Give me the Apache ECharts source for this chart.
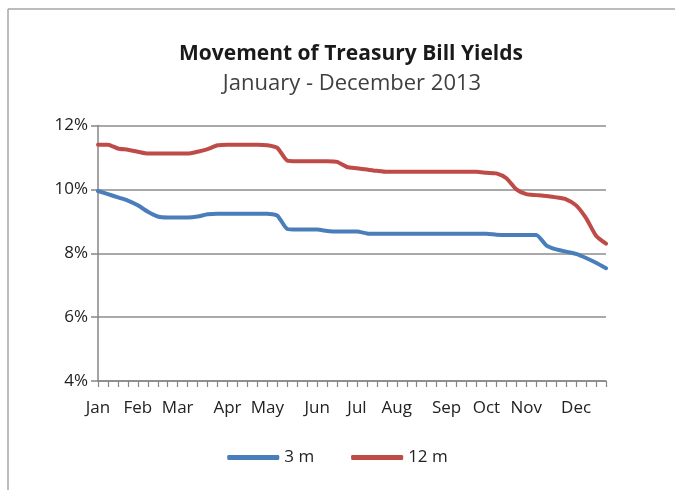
<!DOCTYPE html>
<html>
<head>
<meta charset="utf-8">
<script src="https://cdn.jsdelivr.net/npm/echarts@6/dist/echarts.min.js"></script>
<style>
html,body{margin:0;padding:0;background:#fff;}
#chart{width:675px;height:490px;}
</style>
</head>
<body>
<div id="chart"></div>
<script>
// Weekly auction labels (month name at first auction of each month)
const weekLabels = [
  'Jan','','','',
  'Feb','','','',
  'Mar','','','','',
  'Apr','','','',
  'May','','','','',
  'Jun','','','',
  'Jul','','','',
  'Aug','','','','',
  'Sep','','','',
  'Oct','','','',
  'Nov','','','','',
  'Dec','','',''
];
const yieldTicks = [4, 6, 8, 10, 12];
const bill3m = [
  9.95, 9.85, 9.75, 9.65, 9.50, 9.30, 9.15, 9.12, 9.12, 9.12,
  9.15, 9.22, 9.24, 9.24, 9.24, 9.24, 9.24, 9.24, 9.18, 8.76,
  8.74, 8.74, 8.74, 8.70, 8.68, 8.68, 8.68, 8.62, 8.61, 8.61,
  8.61, 8.61, 8.61, 8.61, 8.61, 8.61, 8.61, 8.61, 8.61, 8.61,
  8.58, 8.57, 8.57, 8.57, 8.57, 8.25, 8.12, 8.05, 7.98, 7.85,
  7.70, 7.53
];
const bill12m = [
  11.40, 11.40, 11.28, 11.24, 11.18, 11.12, 11.12, 11.12, 11.12, 11.12,
  11.18, 11.26, 11.38, 11.40, 11.40, 11.40, 11.40, 11.38, 11.30, 10.90,
  10.88, 10.88, 10.88, 10.88, 10.86, 10.70, 10.66, 10.62, 10.58, 10.55,
  10.55, 10.55, 10.55, 10.55, 10.55, 10.55, 10.55, 10.55, 10.55, 10.52,
  10.50, 10.35, 10.00, 9.85, 9.82, 9.79, 9.75, 9.69, 9.50, 9.10,
  8.55, 8.30
];
const seriesNames = ['3 m', '12 m'];

const FONT = 'Open Sans';
const chart = echarts.init(document.getElementById('chart'));
chart.setOption({
  animation: false,
  backgroundColor: '#fff',
  textStyle: { fontFamily: FONT },
  graphic: [
    { type: 'line', shape: { x1: 8, y1: 9, x2: 675, y2: 9 }, style: { stroke: '#a6a6a6', lineWidth: 1.5 } },
    { type: 'line', shape: { x1: 8, y1: 9, x2: 8, y2: 490 }, style: { stroke: '#a6a6a6', lineWidth: 1.5 } }
  ],
  title: [
    { text: 'Movement of Treasury Bill Yields', left: 346, textAlign: 'center', top: 39,
      textStyle: { fontFamily: FONT, fontSize: 21, fontWeight: 'bold', color: '#1a1a1a' } },
    { text: 'January - December 2013', left: 347, textAlign: 'center', top: 68,
      textStyle: { fontFamily: FONT, fontSize: 22, fontWeight: 'normal', color: '#404040' } }
  ],
  legend: {
    top: 444, left: 'center',
    itemWidth: 52, itemHeight: 5, itemGap: 37,
    icon: 'roundRect',
    textStyle: { fontFamily: FONT, fontSize: 17, color: '#222' },
    data: seriesNames
  },
  grid: { left: 98, right: 69, top: 125.5, bottom: 109, containLabel: false },
  xAxis: {
    type: 'category',
    data: weekLabels,
    boundaryGap: false,
    axisLine: { lineStyle: { color: '#868686', width: 1.5 } },
    axisTick: { show: true, interval: 0, length: 6, lineStyle: { color: '#868686', width: 1.2 } },
    axisLabel: { interval: 0, fontFamily: FONT, fontSize: 17, color: '#222', margin: 19 },
    splitLine: { show: false }
  },
  yAxis: {
    type: 'value',
    min: yieldTicks[0], max: yieldTicks[yieldTicks.length - 1], interval: 2,
    axisLine: { show: true, lineStyle: { color: '#868686', width: 1.5 } },
    axisTick: { show: true, length: 7, lineStyle: { color: '#868686', width: 1.5 } },
    axisLabel: { formatter: '{value}%', fontFamily: FONT, fontSize: 17, color: '#222', margin: 10 },
    splitLine: { lineStyle: { color: '#8c8c8c', width: 1.5 } }
  },
  series: [
    { name: seriesNames[0], type: 'line', data: bill3m, showSymbol: false, smooth: 0.2,
      lineStyle: { color: '#4a7ebb', width: 4, cap: 'round', join: 'round' }, itemStyle: { color: '#4a7ebb' } },
    { name: seriesNames[1], type: 'line', data: bill12m, showSymbol: false, smooth: 0.2,
      lineStyle: { color: '#be4b48', width: 4, cap: 'round', join: 'round' }, itemStyle: { color: '#be4b48' } }
  ]
});
</script>
</body>
</html>
